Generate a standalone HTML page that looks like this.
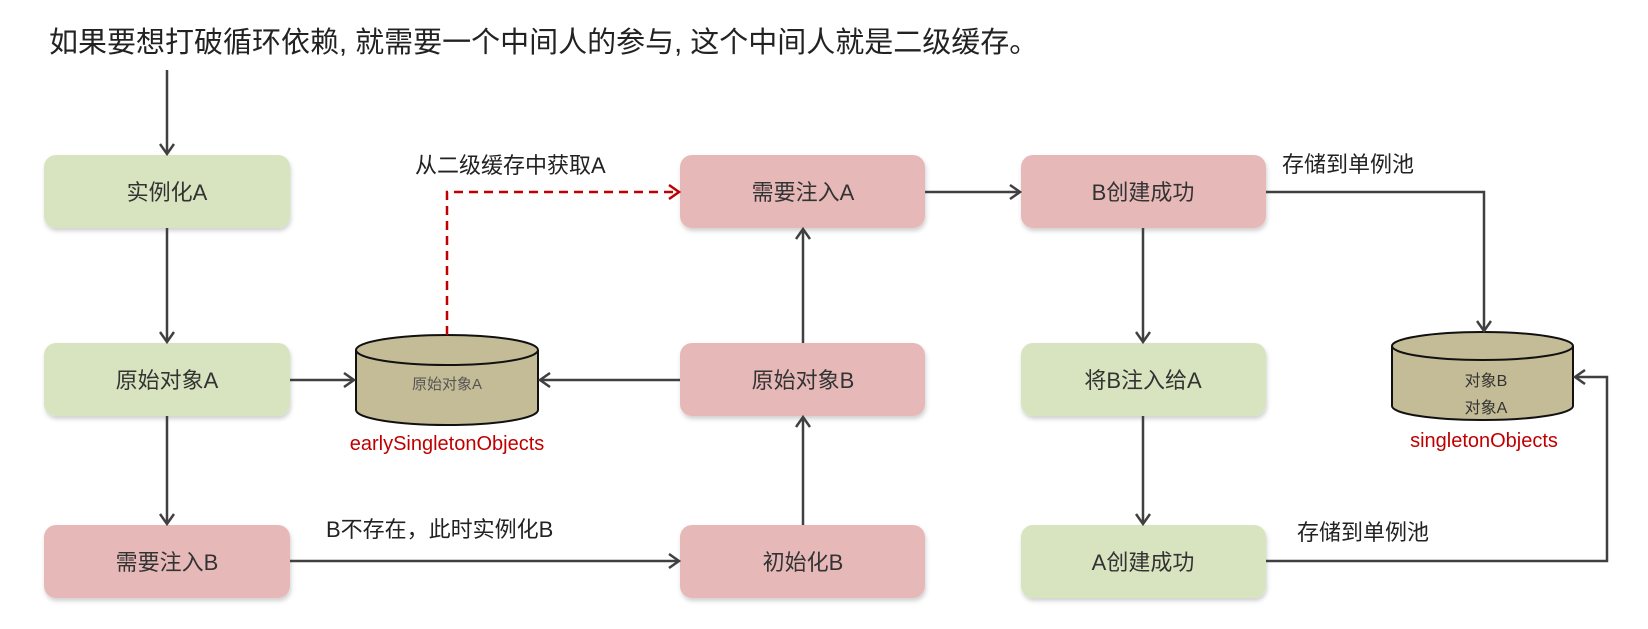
<!DOCTYPE html>
<html><head><meta charset="utf-8"><style>
html,body{margin:0;padding:0;background:#fff;width:1648px;height:629px;overflow:hidden}
svg text{font-family:"Liberation Sans","Noto Sans CJK SC",sans-serif}
</style></head><body>
<svg width="1648" height="629" viewBox="0 0 1648 629" xmlns="http://www.w3.org/2000/svg">
<defs>
<marker id="a" markerWidth="16" markerHeight="16" refX="12" refY="8" orient="auto" markerUnits="userSpaceOnUse">
<path d="M2,1 L12,8 L2,15" fill="none" stroke="#404040" stroke-width="2.5"/></marker>
<marker id="r" markerWidth="16" markerHeight="16" refX="12" refY="8" orient="auto" markerUnits="userSpaceOnUse">
<path d="M2,1 L12,8 L2,15" fill="none" stroke="#c00000" stroke-width="2.5"/></marker>
<filter id="s" x="-10%" y="-10%" width="120%" height="130%"><feDropShadow dx="1" dy="3" stdDeviation="2" flood-color="#000" flood-opacity="0.18"/></filter>
</defs>
<text x="49" y="52" font-size="29" fill="#222">如果要想打破循环依赖, 就需要一个中间人的参与, 这个中间人就是二级缓存。</text>

<g filter="url(#s)">
<rect x="44" y="155" width="246" height="73" rx="12" fill="#d8e4bf"/>
<rect x="44" y="343" width="246" height="73" rx="12" fill="#d8e4bf"/>
<rect x="44" y="525" width="246" height="73" rx="12" fill="#e6b9b8"/>
<rect x="680" y="155" width="245" height="73" rx="12" fill="#e6b9b8"/>
<rect x="680" y="343" width="245" height="73" rx="12" fill="#e6b9b8"/>
<rect x="680" y="525" width="245" height="73" rx="12" fill="#e6b9b8"/>
<rect x="1021" y="155" width="245" height="73" rx="12" fill="#e6b9b8"/>
<rect x="1021" y="343" width="245" height="73" rx="12" fill="#d8e4bf"/>
<rect x="1021" y="525" width="245" height="73" rx="12" fill="#d8e4bf"/>
</g>
<g font-size="22" fill="#333" text-anchor="middle">
<text x="167" y="200">实例化A</text>
<text x="167" y="388">原始对象A</text>
<text x="167" y="570">需要注入B</text>
<text x="803" y="200">需要注入A</text>
<text x="803" y="388">原始对象B</text>
<text x="803" y="570">初始化B</text>
<text x="1143" y="200">B创建成功</text>
<text x="1143" y="388">将B注入给A</text>
<text x="1143" y="570">A创建成功</text>
</g>

<path d="M356,350 L356,410 A91,15 0 0 0 538,410 L538,350" fill="#c4bc96" stroke="#111" stroke-width="2"/>
<ellipse cx="447" cy="350" rx="91" ry="15" fill="#c4bc96" stroke="#111" stroke-width="2"/>
<text x="447" y="389" font-size="15" fill="#555" text-anchor="middle">原始对象A</text>
<text x="447" y="450" font-size="20" fill="#c00000" text-anchor="middle">earlySingletonObjects</text>

<path d="M1392,346 L1392,406 A90.5,14 0 0 0 1573,406 L1573,346" fill="#c4bc96" stroke="#111" stroke-width="2"/>
<ellipse cx="1482.5" cy="346" rx="90.5" ry="14" fill="#c4bc96" stroke="#111" stroke-width="2"/>
<text x="1486" y="386" font-size="16" fill="#333" text-anchor="middle">对象B</text>
<text x="1486" y="413" font-size="16" fill="#333" text-anchor="middle">对象A</text>
<text x="1484" y="447" font-size="20" fill="#c00000" text-anchor="middle">singletonObjects</text>

<g stroke="#404040" stroke-width="2.5" fill="none" marker-end="url(#a)">
<path d="M167,70 L167,154"/>
<path d="M167,228 L167,342"/>
<path d="M167,416 L167,524"/>
<path d="M290,380 L354,380"/>
<path d="M680,380 L540,380"/>
<path d="M290,561 L679,561"/>
<path d="M803,525 L803,417"/>
<path d="M803,343 L803,229"/>
<path d="M925,192 L1020,192"/>
<path d="M1143,228 L1143,342"/>
<path d="M1143,416 L1143,524"/>
<path d="M1266,192 L1484,192 L1484,331"/>
<path d="M1266,561 L1607,561 L1607,377 L1575,377"/>
</g>
<path d="M447,335 L447,192 L679,192" fill="none" stroke="#c00000" stroke-width="2.5" stroke-dasharray="9,6" marker-end="url(#r)"/>

<g font-size="22" fill="#222">
<text x="415" y="173">从二级缓存中获取A</text>
<text x="326" y="537">B不存在，此时实例化B</text>
<text x="1282" y="172">存储到单例池</text>
<text x="1297" y="540">存储到单例池</text>
</g>
</svg>
</body></html>
